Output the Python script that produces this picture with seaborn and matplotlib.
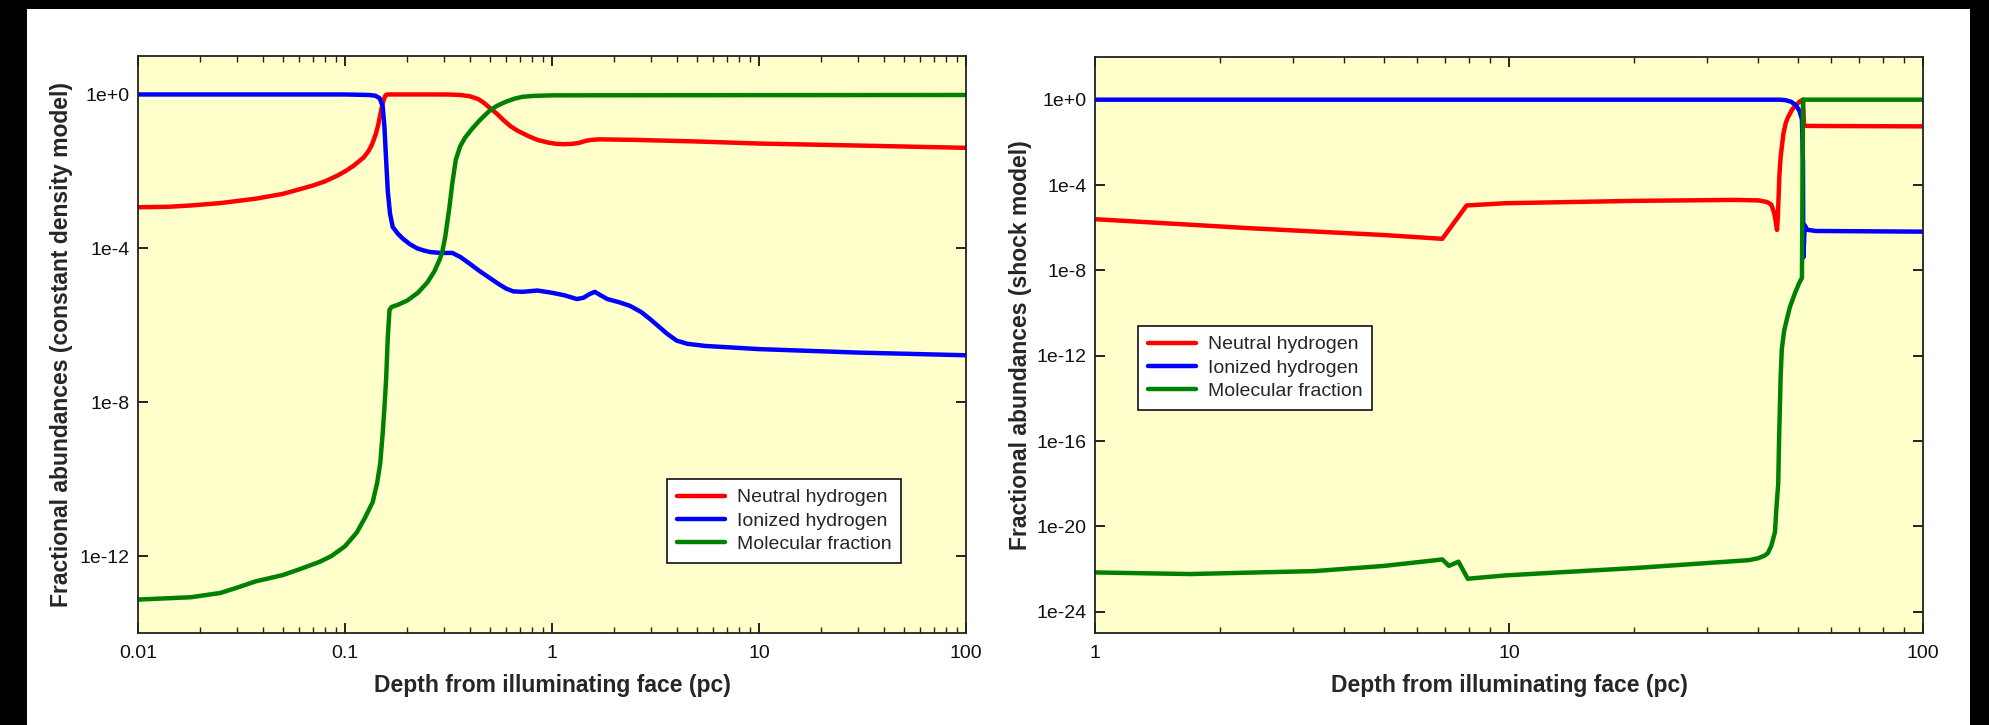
import matplotlib
matplotlib.use("Agg")
import matplotlib.pyplot as plt
import seaborn as sns
import pandas as pd
from matplotlib.ticker import FixedLocator, FixedFormatter, NullLocator, LogLocator
from matplotlib.patches import Rectangle

# ---------------- data ----------------
species = ["Neutral hydrogen", "Ionized hydrogen", "Molecular fraction"]
colors = ["#ff0000", "#0000ff", "#008000"]

# Left panel: constant density model
cd_neutral_x = [0.01, 0.014, 0.018, 0.025, 0.037, 0.05, 0.06, 0.07, 0.08, 0.092, 0.10, 0.11, 0.123,
                0.13, 0.135, 0.141, 0.145, 0.148, 0.151, 0.154, 0.157, 0.16, 0.30, 0.33, 0.36, 0.40,
                0.44, 0.47, 0.50, 0.54, 0.58, 0.63, 0.68, 0.73, 0.78, 0.85, 0.96, 1.05, 1.15, 1.25,
                1.35, 1.45, 1.55, 1.7, 2.5, 5.0, 10.0, 30.0, 100.0]
cd_neutral_y = [1.17e-3, 1.2e-3, 1.3e-3, 1.5e-3, 1.95e-3, 2.6e-3, 3.4e-3, 4.3e-3, 5.5e-3, 7.8e-3,
                1.0e-2, 1.4e-2, 2.3e-2, 3.4e-2, 5e-2, 9.5e-2, 0.17, 0.3, 0.5, 0.75, 0.95, 1.0, 1.0,
                0.99, 0.97, 0.9, 0.76, 0.6, 0.45, 0.32, 0.22, 0.15, 0.115, 0.095, 0.08, 0.066, 0.056,
                0.052, 0.051, 0.052, 0.055, 0.062, 0.066, 0.068, 0.066, 0.06, 0.053, 0.047, 0.041]

cd_ionized_x = [0.01, 0.10, 0.13, 0.14, 0.147, 0.152, 0.155, 0.158, 0.161, 0.165, 0.170, 0.18, 0.19,
                0.205, 0.223, 0.24, 0.258, 0.29, 0.33, 0.36, 0.40, 0.45, 0.50, 0.55, 0.60, 0.65, 0.72,
                0.85, 1.0, 1.15, 1.32, 1.42, 1.52, 1.61, 1.72, 1.85, 2.1, 2.38, 2.7, 3.0, 3.3, 3.6,
                4.0, 4.5, 5.5, 10.0, 30.0, 100.0]
cd_ionized_y = [1.0, 1.0, 0.97, 0.93, 0.8, 0.5, 0.15, 0.02, 3e-3, 8e-4, 3.6e-4, 2.4e-4, 1.8e-4,
                1.3e-4, 1.0e-4, 8.8e-5, 8.0e-5, 7.6e-5, 7.6e-5, 6.0e-5, 4.0e-5, 2.5e-5, 1.7e-5,
                1.2e-5, 9.0e-6, 7.6e-6, 7.4e-6, 8.0e-6, 7.0e-6, 6.0e-6, 4.8e-6, 5.2e-6, 6.5e-6,
                7.4e-6, 6.0e-6, 4.8e-6, 4.0e-6, 3.2e-6, 2.2e-6, 1.4e-6, 9e-7, 6e-7, 4e-7, 3.3e-7,
                2.9e-7, 2.4e-7, 1.95e-7, 1.66e-7]

cd_molecular_x = [0.01, 0.018, 0.025, 0.03, 0.037, 0.05, 0.06, 0.075, 0.086, 0.10, 0.114, 0.125,
                  0.136, 0.143, 0.148, 0.152, 0.155, 0.158, 0.161, 0.164, 0.168, 0.18, 0.20, 0.225,
                  0.25, 0.27, 0.287, 0.295, 0.305, 0.319, 0.33, 0.343, 0.36, 0.38, 0.41, 0.45, 0.50,
                  0.54, 0.60, 0.66, 0.72, 0.82, 1.03, 10.0, 100.0]
cd_molecular_y = [7.4e-14, 8.5e-14, 1.1e-13, 1.5e-13, 2.2e-13, 3.2e-13, 4.5e-13, 7e-13, 1.0e-12,
                  1.8e-12, 4.1e-12, 1e-11, 2.5e-11, 8e-11, 2.6e-10, 1.5e-9, 7e-9, 4e-8, 5e-7, 2.5e-6,
                  3.0e-6, 3.4e-6, 4.4e-6, 7e-6, 1.3e-5, 2.5e-5, 5.2e-5, 8e-5, 2e-4, 1.1e-3, 5e-3,
                  2e-2, 4.5e-2, 7.5e-2, 0.126, 0.22, 0.38, 0.5, 0.65, 0.78, 0.87, 0.92, 0.95, 0.96,
                  0.97]

# Right panel: shock model
sh_neutral_x = [1.0, 2.4, 5.0, 6.9, 7.9, 9.8, 20.0, 35.0, 40.0, 42.0, 43.0, 43.7, 44.1, 44.4, 44.6,
                44.8, 45.0, 45.3, 45.6, 46.0, 46.6, 47.2, 48.3, 49.5, 50.5, 51.3, 51.6, 60.0, 100.0]
sh_neutral_y = [2.5e-6, 9.3e-7, 4.5e-7, 3.0e-7, 1.1e-5, 1.4e-5, 1.8e-5, 2.0e-5, 1.9e-5, 1.6e-5,
                1.2e-5, 5e-6, 1.8e-6, 7.8e-7, 3e-6, 3e-5, 3e-4, 2e-3, 6e-3, 2.5e-2, 8e-2, 0.15, 0.35,
                0.6, 0.85, 1.0, 0.059, 0.058, 0.056]

sh_ionized_x = [1.0, 45.0, 46.5, 48.0, 49.3, 50.3, 51.0, 51.3, 51.4, 51.8, 52.5, 55.0, 100.0]
sh_ionized_y = [1.0, 1.0, 0.95, 0.8, 0.55, 0.3, 0.12, 1e-3, 4e-8, 1.3e-6, 8e-7, 7e-7, 6.5e-7]

sh_molecular_x = [1.0, 1.7, 3.4, 5.0, 6.9, 7.16, 7.55, 7.95, 9.8, 20.0, 38.0, 40.0, 41.5, 42.2,
                  43.0, 43.9, 44.3, 44.7, 44.9, 45.1, 45.3, 45.6, 46.2, 47.0, 47.7, 49.0, 50.2,
                  51.0, 51.3, 100.0]
sh_molecular_y = [6.9e-23, 5.8e-23, 8e-23, 1.4e-22, 2.8e-22, 1.4e-22, 2.2e-22, 3.5e-23, 5e-23,
                  1.1e-22, 2.6e-22, 3.2e-22, 4.3e-22, 5.6e-22, 1.2e-21, 5.4e-21, 1e-19, 1e-18,
                  1e-16, 3e-15, 1e-13, 2e-12, 1.5e-11, 6e-11, 1.9e-10, 8e-10, 2.5e-9, 4.4e-9, 1.0,
                  1.0]

left_yticks = [1e0, 1e-4, 1e-8, 1e-12]
left_yticklabels = ["1e+0", "1e-4", "1e-8", "1e-12"]
right_yticks = [1e0, 1e-4, 1e-8, 1e-12, 1e-16, 1e-20, 1e-24]
right_yticklabels = ["1e+0", "1e-4", "1e-8", "1e-12", "1e-16", "1e-20", "1e-24"]
left_xticks = [0.01, 0.1, 1, 10, 100]
left_xticklabels = ["0.01", "0.1", "1", "10", "100"]
right_xticks = [1, 10, 100]
right_xticklabels = ["1", "10", "100"]

xlabel = "Depth from illuminating face (pc)"
left_ylabel = "Fractional abundances (constant density model)"
right_ylabel = "Fractional abundances (shock model)"


def make_df(series):
    frames = []
    for name, xs, ys in series:
        frames.append(pd.DataFrame({"depth": xs, "abundance": ys, "species": name}))
    return pd.concat(frames, ignore_index=True)


df_left = make_df([(species[0], cd_neutral_x, cd_neutral_y),
                   (species[1], cd_ionized_x, cd_ionized_y),
                   (species[2], cd_molecular_x, cd_molecular_y)])
df_right = make_df([(species[0], sh_neutral_x, sh_neutral_y),
                    (species[1], sh_ionized_x, sh_ionized_y),
                    (species[2], sh_molecular_x, sh_molecular_y)])

# ---------------- style ----------------
sns.set_style("ticks")
plt.rcParams["font.family"] = ["Liberation Sans", "DejaVu Sans"]
plt.rcParams["axes.linewidth"] = 1.3

W, H = 1990, 725
fig = plt.figure(figsize=(W / 100, H / 100), dpi=100, facecolor="black")
fig.patches.append(Rectangle((27 / W, 0), (1970 - 27) / W, (725 - 9) / H,
                             transform=fig.transFigure, facecolor="white",
                             edgecolor="none", zorder=-10))


def px_axes(x0, y0, x1, y1):
    return fig.add_axes([x0 / W, 1 - y1 / H, (x1 - x0) / W, (y1 - y0) / H])


ax1 = px_axes(138, 56, 966, 633)
ax2 = px_axes(1095, 57, 1923, 633)

configs = [
    (ax1, df_left, (0.01, 100), (1e-14, 10), left_xticks, left_xticklabels,
     left_yticks, left_yticklabels, left_ylabel, (667, 479), -0.0785),
    (ax2, df_right, (1, 100), (1e-25, 100), right_xticks, right_xticklabels,
     right_yticks, right_yticklabels, right_ylabel, (1138, 326), -0.076),
]

for ax, df, xlim, ylim, xt, xtl, yt, ytl, ylab, legpos, labx in configs:
    ax.set_facecolor("#ffffcc")
    sns.lineplot(data=df, x="depth", y="abundance", hue="species", hue_order=species,
                 palette=colors, estimator=None, sort=False, linewidth=3.2, ax=ax)
    for ln in ax.get_lines():
        ln.set_solid_joinstyle("round")
        ln.set_solid_capstyle("round")
    ax.set_xscale("log")
    ax.set_yscale("log")
    ax.set_xlim(*xlim)
    ax.set_ylim(*ylim)
    ax.xaxis.set_major_locator(FixedLocator(xt))
    ax.xaxis.set_major_formatter(FixedFormatter(xtl))
    ax.xaxis.set_minor_locator(LogLocator(base=10, subs=range(2, 10), numticks=20))
    ax.yaxis.set_major_locator(FixedLocator(yt))
    ax.yaxis.set_major_formatter(FixedFormatter(ytl))
    ax.yaxis.set_minor_locator(NullLocator())
    ax.tick_params(which="both", direction="in", top=True, right=True, colors="#222222",
                   labelsize=14, labelcolor="#111111")
    ax.tick_params(which="major", length=7, width=1.4)
    ax.tick_params(which="minor", length=4, width=1.0)
    ax.tick_params(axis="x", which="major", pad=9)
    ax.tick_params(axis="y", which="major", pad=6)
    for s in ax.spines.values():
        s.set_color("#222222")
        s.set_linewidth(1.3)
    ax.set_xlabel(xlabel, fontsize=16.5, fontweight="bold", labelpad=8)
    ax.set_ylabel(ylab, fontsize=16.5, fontweight="bold")
    ax.yaxis.set_label_coords(labx, 0.5)
    handles, labels = ax.get_legend_handles_labels()
    leg = ax.legend(handles, labels, loc="upper left",
                    bbox_to_anchor=(legpos[0] / W, 1 - legpos[1] / H),
                    bbox_transform=fig.transFigure, borderaxespad=0, fontsize=14,
                    frameon=True, fancybox=False, framealpha=1, edgecolor="#111111",
                    facecolor="white", handlelength=2.5, handletextpad=0.6,
                    labelspacing=0.3, borderpad=0.5)
    leg.get_frame().set_linewidth(1.2)
    for line in leg.get_lines():
        line.set_linewidth(3.2)

fig.savefig("out.png", dpi=100, facecolor=fig.get_facecolor())
